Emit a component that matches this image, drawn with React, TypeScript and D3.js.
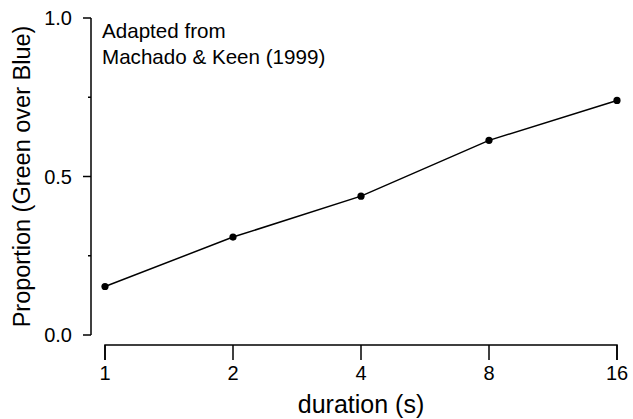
import React from 'react';
import * as d3 from 'd3';

const durations = [1, 2, 4, 8, 16];
const proportions = [0.153, 0.309, 0.438, 0.614, 0.74];
const yMajorTicks = [0, 0.5, 1];
const yMinorTicks = [0.25, 0.75];
const noteLines = ['Adapted from', 'Machado & Keen (1999)'];

const width = 633;
const height = 419;
const margin = { top: 18, right: 16, bottom: 84, left: 91 };
const font = '"Liberation Sans", Arial, sans-serif';

export default function App() {
  const x = d3.scaleLog().base(2).domain([1, 16]).range([105, width - margin.right]);
  const y = d3.scaleLinear().domain([0, 1]).range([height - margin.bottom, margin.top]);
  const xAxisY = 345;
  const fmtY = d3.format('.1f');
  const fmtX = d3.format('d');

  const data = durations.map((d, i) => ({ d, p: proportions[i] }));
  const line = d3
    .line<{ d: number; p: number }>()
    .x((v) => x(v.d))
    .y((v) => y(v.p));

  const [x0, x1] = x.range();
  const [y0, y1] = y.range();

  return (
    <svg
      width={width}
      height={height}
      style={{ position: 'absolute', left: 0, top: 0, background: '#fff' }}
      xmlns="http://www.w3.org/2000/svg">
      {/* x axis */}
      <g transform={`translate(0,${xAxisY})`} stroke="#000" strokeWidth={1.5}>
        <path d={`M${x0},15V0H${x1}V15`} fill="none" />
        {durations.map((d) => (
          <line key={d} x1={x(d)} x2={x(d)} y1={0} y2={15} />
        ))}
      </g>
      <g fontFamily={font} fontSize={20} fill="#000" textAnchor="middle">
        {durations.map((d) => (
          <text key={d} x={x(d)} y={xAxisY + 35}>
            {fmtX(d)}
          </text>
        ))}
      </g>
      {/* y axis */}
      <g transform={`translate(${margin.left},0)`} stroke="#000" strokeWidth={1.5}>
        <path d={`M0,${y0}V${y1}`} fill="none" />
        {yMajorTicks.map((t) => (
          <line key={t} x1={-8} x2={0} y1={y(t)} y2={y(t)} />
        ))}
        {yMinorTicks.map((t) => (
          <line key={t} x1={-3} x2={0} y1={y(t)} y2={y(t)} />
        ))}
      </g>
      <g fontFamily={font} fontSize={20} fill="#000" textAnchor="end">
        {yMajorTicks.map((t) => (
          <text key={t} x={margin.left - 19} y={y(t)} dy="0.35em">
            {fmtY(t)}
          </text>
        ))}
      </g>
      <path d={line(data) ?? ''} fill="none" stroke="#000" strokeWidth={1.5} />
      {data.map((v) => (
        <circle key={v.d} cx={x(v.d)} cy={y(v.p)} r={3.6} fill="#000" />
      ))}
      <g fontFamily={font} fontSize={20.6} fill="#000">
        {noteLines.map((t, i) => (
          <text key={t} x={102} y={38 + i * 26}>
            {t}
          </text>
        ))}
      </g>
      <text x={(x0 + x1) / 2} y={413} textAnchor="middle" fontFamily={font} fontSize={25} fill="#000">
        duration (s)
      </text>
      <text
        transform={`translate(30,${(y0 + y1) / 2}) rotate(-90)`}
        textAnchor="middle"
        fontFamily={font}
        fontSize={23.5}
        fill="#000">
        Proportion (Green over Blue)
      </text>
    </svg>
  );
}
